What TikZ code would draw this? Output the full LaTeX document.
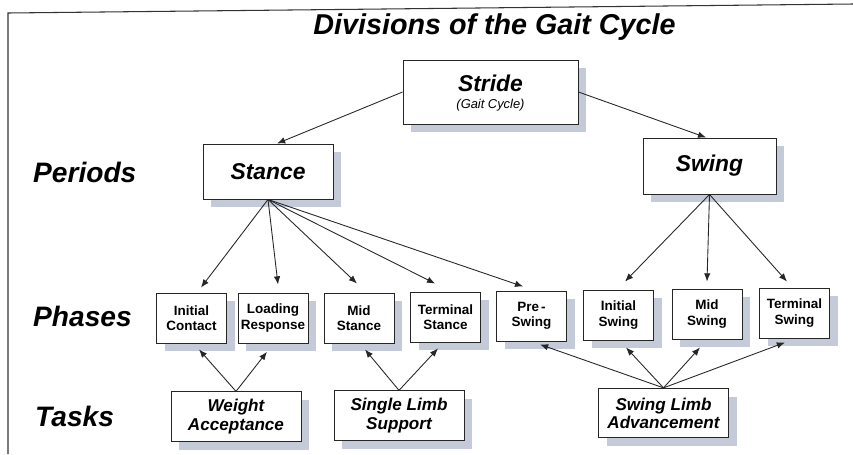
\documentclass[tikz,border=0pt]{standalone}
\usepackage{fontspec}
\setmainfont{Liberation Sans}
\usetikzlibrary{arrows.meta,shadows}
\definecolor{shadowblue}{RGB}{196,202,216}
\begin{document}
\begin{tikzpicture}[x=0.3mm,y=-0.3mm,
    box/.style={draw=black!85,line width=0.8pt,fill=white,inner sep=0pt,align=center,
      drop shadow={shadow xshift=2.5mm,shadow yshift=-2.5mm,fill=shadowblue,opacity=1}},
    period/.style={box,font=\fontsize{19.5}{16}\selectfont\bfseries\itshape},
    phase/.style={box,minimum width=2.1cm,minimum height=1.5cm,
      font=\fontsize{11.5}{13}\selectfont\bfseries},
    task/.style={box,minimum width=3.9cm,minimum height=1.48cm,
      font=\fontsize{14.6}{15.5}\selectfont\bfseries\itshape},
    rowlabel/.style={anchor=base west,inner sep=0pt,font=\fontsize{24}{28}\selectfont\bfseries\itshape},
    conn/.style={-{Latex[length=7pt,width=5.5pt]},line width=0.75pt,draw=black!85}]
    \useasboundingbox (0,0) rectangle (853,454); % keep the page size
    \draw[line width=0.9pt,black!80] (853,4) -- (8,13) -- (8,454);

    \node[anchor=base,inner sep=0pt,font=\fontsize{24.5}{28}\selectfont\bfseries\itshape] (title) at (494.5,34) {Divisions of the Gait Cycle};

    % row labels
    \node[rowlabel] (periods) at (33,182) {Periods};
    \node[rowlabel] (phases) at (33,326) {Phases};
    \node[rowlabel] (tasks) at (35,426) {Tasks};

    % stride and periods
    \node[period,minimum width=5.25cm,minimum height=1.92cm] (stride) at (490.5,92) {\rule{0pt}{16pt}Stride\\[-1pt]{\fontsize{11}{16}\selectfont\mdseries\itshape (Gait Cycle)}};
    \node[period,minimum width=3.9cm,minimum height=1.65cm] (stance) at (268,171.5) {Stance};
    \node[period,minimum width=3.99cm,minimum height=1.68cm] (swing) at (709.5,166) {Swing};

    % phases
    \node[phase] (ic) at (191.5,318) {Initial\\Contact};
    \node[phase] (lr) at (273,318) {Loading\\Response};
    \node[phase] (ms) at (359,318) {Mid\\Stance};
    \node[phase] (ts) at (445.5,317) {Terminal\\Stance};
    \node[phase] (ps) at (531.5,316) {Pre\,-\\Swing};
    \node[phase] (isw) at (618.5,315) {Initial\\Swing};
    \node[phase] (msw) at (707,314) {Mid\\Swing};
    \node[phase] (tsw) at (794.5,313) {Terminal\\Swing};

    % tasks
    \node[task] (wa) at (236,416.5) {Weight\\Acceptance};
    \node[task] (sls) at (399,415.5) {Single Limb\\Support};
    \node[task] (sla) at (663.5,413) {Swing Limb\\Advancement};

    \draw[conn] (stride.west) -- ([xshift=2.7mm]stance.north);
    \draw[conn] (stride.east) -- ([xshift=-1mm]swing.north);

    \draw[conn] (stance.south) -- ([xshift=2.85mm,yshift=1.5mm]ic.north);
    \draw[conn] (stance.south) -- ([xshift=1.5mm,yshift=2.4mm]lr.north);
    \draw[conn] (stance.south) -- ([xshift=-0.6mm,yshift=2.7mm]ms.north);
    \draw[conn] (stance.south) -- ([xshift=-3.1mm,yshift=2.4mm]ts.north);
    \draw[conn] (stance.south) -- ([xshift=-2.5mm,yshift=1.2mm]ps.north);

    \draw[conn] (swing.south) -- ([xshift=1.95mm,yshift=2.4mm]isw.north);
    \draw[conn] (swing.south) -- ([yshift=2.1mm]msw.north);
    \draw[conn] (swing.south) -- ([xshift=-2.25mm,yshift=1.8mm]tsw.north);

    \draw[conn] (wa.north) -- ([xshift=2.25mm,yshift=-1.8mm]ic.south);
    \draw[conn] (wa.north) -- ([xshift=-1.8mm,yshift=-2.5mm]lr.south);
    \draw[conn] (sls.north) -- ([xshift=1.8mm,yshift=-1.8mm]ms.south);
    \draw[conn] (sls.north) -- ([xshift=-2.25mm,yshift=-1.8mm]ts.south);
    \draw[conn] (sla.north) -- ([xshift=2.55mm,yshift=-0.9mm]ps.south);
    \draw[conn] (sla.north) -- ([xshift=2.25mm,yshift=-2.1mm]isw.south);
    \draw[conn] (sla.north) -- ([xshift=-2.1mm,yshift=-2.4mm]msw.south);
    \draw[conn] (sla.north) -- ([xshift=-2.85mm,yshift=-1.2mm]tsw.south);
\end{tikzpicture}
\end{document}
